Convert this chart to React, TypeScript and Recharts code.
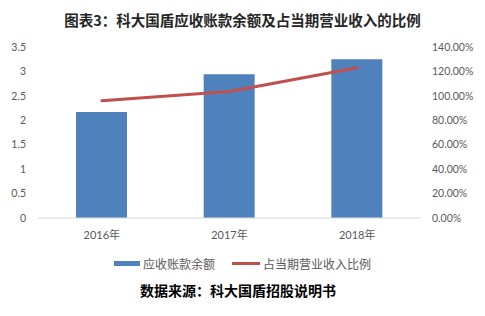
import React from 'react';
import { ComposedChart, Bar, Line, XAxis, YAxis, Legend } from 'recharts';

const years = ['2016年', '2017年', '2018年'];
const receivables = [2.17, 2.94, 3.25];
const ratio = [0.96, 1.035, 1.23];
const leftTicks = [0, 0.5, 1, 1.5, 2, 2.5, 3, 3.5];
const rightTicks = [0, 0.2, 0.4, 0.6, 0.8, 1.0, 1.2, 1.4];

const data = years.map((year, i) => ({
  year,
  receivables: receivables[i],
  ratio: ratio[i],
}));

const BLUE = '#4F81BD';
const RED = '#C0504D';
const GREY = '#595959';
const cjk = '"Noto Sans CJK SC", "Noto Sans", sans-serif';
const latin = 'Lato, "Noto Sans CJK SC", sans-serif';

// bar first, like the excel original
const renderLegend = (props: any) => {
  const payload = [...(props.payload || [])].sort((a: any, b: any) =>
    (a.type === 'rect' ? 0 : 1) - (b.type === 'rect' ? 0 : 1)
  );
  return (
    <div style={{ display: 'flex', justifyContent: 'center', gap: 17, fontFamily: cjk, fontSize: 12, color: GREY }}>
      {payload.map((item: any) => (
        <div key={item.value} style={{ display: 'flex', alignItems: 'center' }}>
          {item.type === 'rect' ? (
            <span style={{ display: 'inline-block', width: 26, height: 5, background: item.color, marginRight: 3 }} />
          ) : (
            <span style={{ display: 'inline-block', width: 28, height: 3, background: item.color, marginRight: 3 }} />
          )}
          <span>{item.value}</span>
        </div>
      ))}
    </div>
  );
};

export default function App() {
  return (
    <div style={{ position: 'absolute', left: 0, top: 0, width: 485, height: 316, background: '#fff' }}>
      <div
        style={{
          position: 'absolute',
          top: 10,
          left: 0,
          width: 485,
          textAlign: 'center',
          fontFamily: cjk,
          fontWeight: 'bold',
          fontSize: 14.5,
          color: '#262626',
          lineHeight: '20px',
        }}
      >
        图表3：科大国盾应收账款余额及占当期营业收入的比例
      </div>
      <ComposedChart width={485} height={316} data={data} margin={{ top: 47, right: 0, bottom: 68, left: 0 }}>
        <XAxis
          dataKey="year"
          height={30}
          tickLine={false}
          tickSize={6}
          tickMargin={7}
          axisLine={{ stroke: '#D9D9D9' }}
          tick={{ fill: GREY, fontSize: 11, fontFamily: latin }}
        />
        <YAxis
          yAxisId="left"
          width={38}
          domain={[0, 3.5]}
          ticks={leftTicks}
          tickLine={false}
          axisLine={false}
          tickSize={6}
          tickMargin={6}
          tick={{ fill: GREY, fontSize: 10.5, fontFamily: latin }}
        />
        <YAxis
          yAxisId="right"
          orientation="right"
          width={64}
          domain={[0, 1.4]}
          ticks={rightTicks}
          tickLine={false}
          axisLine={false}
          tickSize={6}
          tickMargin={5}
          tickFormatter={(v: number) => `${(v * 100).toFixed(2)}%`}
          tick={{ fill: GREY, fontSize: 10.5, fontFamily: latin }}
        />
        <Legend
          verticalAlign="middle"
          align="center"
          layout="horizontal"
          wrapperStyle={{ position: 'absolute', top: 255, left: 0, width: 485 }}
          content={renderLegend}
        />
        <Bar yAxisId="left" dataKey="receivables" name="应收账款余额" fill={BLUE} barSize={51} isAnimationActive={false} legendType="rect" />
        <Line
          yAxisId="right"
          type="linear"
          dataKey="ratio"
          name="占当期营业收入比例"
          stroke={RED}
          strokeWidth={3}
          strokeLinejoin="round"
          strokeLinecap="round"
          dot={false}
          legendType="line"
          isAnimationActive={false}
        />
      </ComposedChart>
      <div
        style={{
          position: 'absolute',
          top: 280,
          left: 0,
          width: 476,
          textAlign: 'center',
          fontFamily: cjk,
          fontWeight: 'bold',
          fontSize: 14,
          color: '#000',
          lineHeight: '20px',
        }}
      >
        数据来源：科大国盾招股说明书
      </div>
    </div>
  );
}
